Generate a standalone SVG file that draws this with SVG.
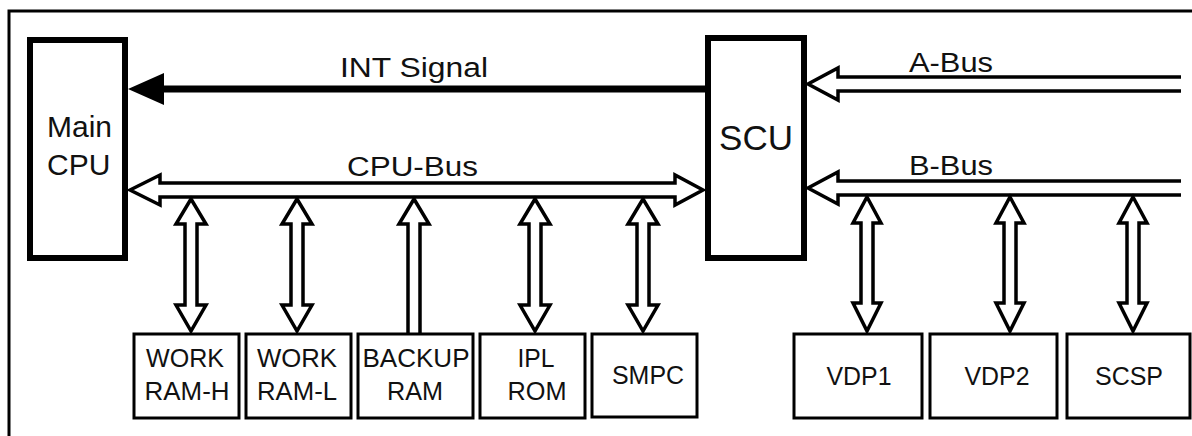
<svg xmlns="http://www.w3.org/2000/svg" width="1192" height="436" viewBox="0 0 1192 436">
<style>
text{font-family:"Liberation Sans",Arial,sans-serif;fill:#111;}
.big{stroke:#000;stroke-width:6;fill:#fff;}
.box{stroke:#000;stroke-width:3;fill:#fff;}
.bus{stroke:#000;stroke-width:3.5;fill:#fff;stroke-linejoin:miter;stroke-miterlimit:10;}
.line{stroke:#000;stroke-width:3.5;fill:none;}
.lbl{font-size:25px;text-anchor:middle;}
.buslbl{font-size:27px;}
</style>
<rect width="1192" height="436" fill="#fff"/>
<g id="frame"><path d="M9,436 V11 H1192" fill="none" stroke="#000" stroke-width="3"/></g>

<g id="connectors">
  <!-- INT Signal -->
  <line x1="160" y1="89" x2="708" y2="89" stroke="#000" stroke-width="7"/>
  <polygon points="128,89 164,73 164,105" fill="#000"/>
  <!-- CPU-Bus -->
  <polygon class="bus" points="130,190 160,175 160,183 675,183 675,175 703,190 675,205 675,197 160,197 160,205"/>
  <!-- A-Bus -->
  <polyline class="bus" points="1181,77 838,77 838,68 808,84 838,100 838,91 1181,91"/>
  <!-- B-Bus -->
  <polyline class="bus" points="1181,181 838,181 838,172 808,188 838,204 838,195 1181,195"/>
  <!-- vertical double arrows -->
  <polygon class="bus" points="191,199 206,224 197,224 197,305 206,305 191,331 176,305 185,305 185,224 176,224"/>
  <polygon class="bus" points="297,199 312,224 303,224 303,305 312,305 297,331 282,305 291,305 291,224 282,224"/>
  <polyline class="bus" points="420,333 420,224 429,224 414,199 399,224 408,224 408,333"/>
  <polygon class="bus" points="535,199 550,224 541,224 541,305 550,305 535,331 520,305 529,305 529,224 520,224"/>
  <polygon class="bus" points="643,199 658,224 649,224 649,305 658,305 643,331 628,305 637,305 637,224 628,224"/>
  <polygon class="bus" points="867,197 881,223 873,223 873,303 881,303 867,331 853,303 861,303 861,223 853,223"/>
  <polygon class="bus" points="1010,197 1024,223 1016,223 1016,303 1024,303 1010,331 996,303 1004,303 1004,223 996,223"/>
  <polygon class="bus" points="1133,197 1147,223 1139,223 1139,303 1147,303 1133,331 1119,303 1127,303 1127,223 1119,223"/>
</g>

<g id="main-cpu">
  <rect class="big" x="30" y="40" width="95" height="218"/>
  <text x="47" y="137" font-size="30">Main</text>
  <text x="47" y="175" font-size="30">CPU</text>
</g>
<g id="scu">
  <rect class="big" x="708" y="38" width="96" height="220"/>
  <text x="756" y="150" font-size="35" text-anchor="middle">SCU</text>
</g>

<g id="labels">
  <text class="buslbl" x="340" y="77" textLength="148" lengthAdjust="spacingAndGlyphs">INT Signal</text>
  <text class="buslbl" x="347" y="176" textLength="131" lengthAdjust="spacingAndGlyphs">CPU-Bus</text>
  <text class="buslbl" x="909" y="72" textLength="84" lengthAdjust="spacingAndGlyphs">A-Bus</text>
  <text class="buslbl" x="909" y="175" textLength="84" lengthAdjust="spacingAndGlyphs">B-Bus</text>
</g>

<g id="work-ram-h">
  <rect class="box" x="134" y="334" width="105" height="84"/>
  <text class="lbl" x="185" y="367" textLength="78" lengthAdjust="spacingAndGlyphs">WORK</text>
  <text class="lbl" x="187" y="400" textLength="85" lengthAdjust="spacingAndGlyphs">RAM-H</text>
</g>
<g id="work-ram-l">
  <rect class="box" x="246" y="334" width="105" height="84"/>
  <text class="lbl" x="297" y="367" textLength="80" lengthAdjust="spacingAndGlyphs">WORK</text>
  <text class="lbl" x="297" y="400" textLength="80" lengthAdjust="spacingAndGlyphs">RAM-L</text>
</g>
<g id="backup-ram">
  <rect class="box" x="358" y="334" width="115" height="84"/>
  <text class="lbl" x="416" y="367" textLength="107" lengthAdjust="spacingAndGlyphs">BACKUP</text>
  <text class="lbl" x="415" y="400" textLength="56" lengthAdjust="spacingAndGlyphs">RAM</text>
</g>
<g id="ipl-rom">
  <rect class="box" x="480" y="334" width="105" height="84"/>
  <text class="lbl" x="536" y="367" textLength="37" lengthAdjust="spacingAndGlyphs">IPL</text>
  <text class="lbl" x="537" y="400" textLength="59" lengthAdjust="spacingAndGlyphs">ROM</text>
</g>
<g id="smpc">
  <rect class="box" x="592" y="334" width="105" height="83"/>
  <text class="lbl" x="648" y="384" textLength="72" lengthAdjust="spacingAndGlyphs">SMPC</text>
</g>
<g id="vdp1">
  <rect class="box" x="794" y="334" width="128" height="84"/>
  <text class="lbl" x="859" y="385" textLength="65" lengthAdjust="spacingAndGlyphs">VDP1</text>
</g>
<g id="vdp2">
  <rect class="box" x="930" y="334" width="127" height="84"/>
  <text class="lbl" x="997" y="385" textLength="65" lengthAdjust="spacingAndGlyphs">VDP2</text>
</g>
<g id="scsp">
  <rect class="box" x="1067" y="334" width="123" height="84"/>
  <text class="lbl" x="1129" y="385" textLength="68" lengthAdjust="spacingAndGlyphs">SCSP</text>
</g>
</svg>
